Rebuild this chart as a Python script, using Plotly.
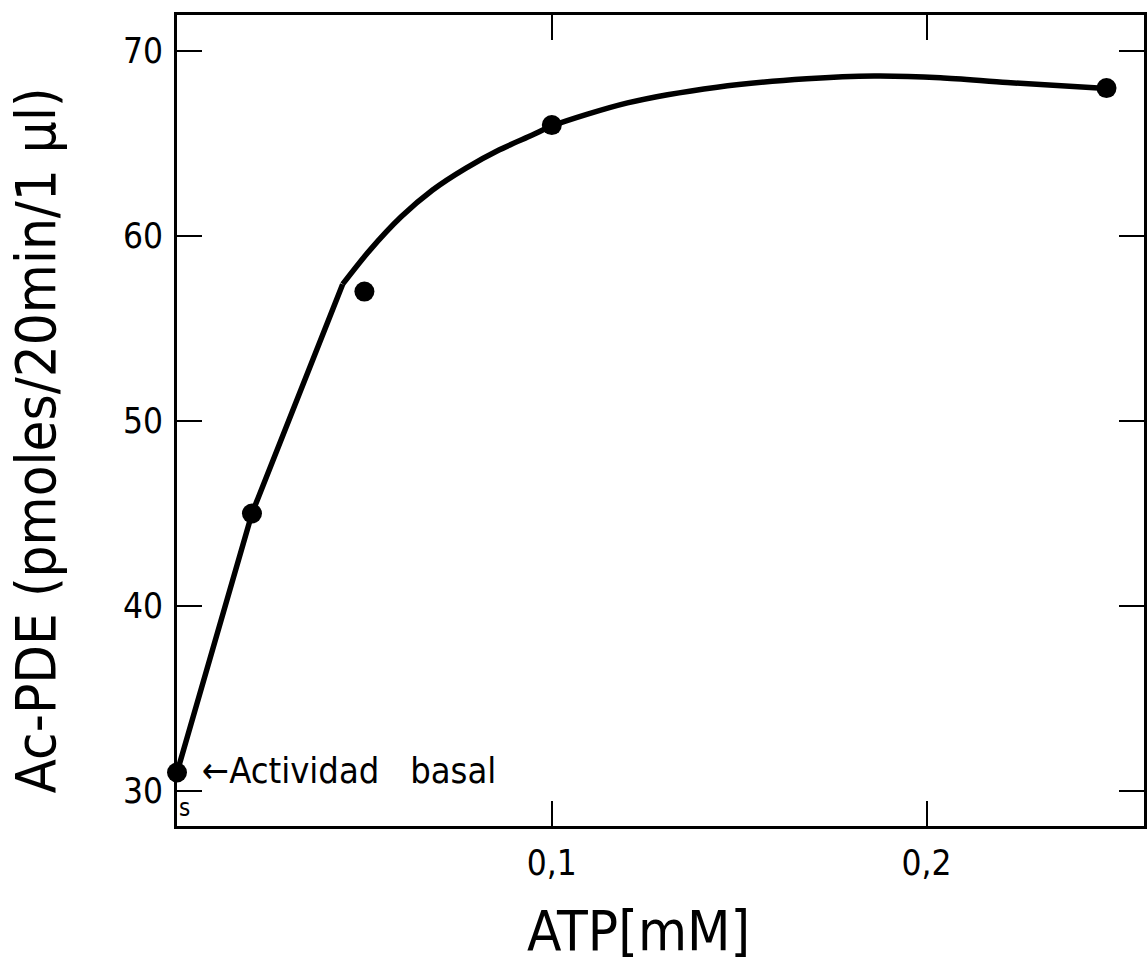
import plotly.graph_objects as go

# Measured points (ATP mM, Ac-PDE)
atp_points = [0.0, 0.02, 0.05, 0.1, 0.248]
pde_points = [31.0, 45.0, 57.0, 66.0, 68.0]

# Hand-drawn curve: straight rising part, then smooth saturating part
curve_lin_x = [0.0, 0.02, 0.0442]
curve_lin_y = [31.0, 45.0, 57.4]
curve_smooth_x = [0.0442, 0.0513, 0.0598, 0.0682, 0.077, 0.0859, 0.0948, 0.1, 0.1202, 0.1441, 0.168, 0.186, 0.2037, 0.2215, 0.248]
curve_smooth_y = [57.4, 59.2, 61.04, 62.49, 63.66, 64.65, 65.46, 65.95, 67.2, 68.05, 68.5, 68.65, 68.56, 68.3, 67.98]

x_tickvals = [0.1, 0.2]
x_ticktext = ["0,1", "0,2"]
y_tickvals = [30, 40, 50, 60, 70]
y_ticktext = ["30", "40", "50", "60", "70"]

FONT = "Liberation Sans Narrow, DejaVu Sans Condensed, Liberation Sans, sans-serif"

fig = go.Figure()
fig.add_trace(go.Scatter(x=curve_lin_x, y=curve_lin_y, mode="lines",
                         line=dict(color="black", width=5.5), showlegend=False, hoverinfo="skip"))
fig.add_trace(go.Scatter(x=curve_smooth_x, y=curve_smooth_y, mode="lines",
                         line=dict(color="black", width=5.5, shape="spline", smoothing=0.8),
                         showlegend=False, hoverinfo="skip"))
fig.add_trace(go.Scatter(x=atp_points, y=pde_points, mode="markers",
                         marker=dict(color="black", size=20), cliponaxis=False, showlegend=False))

fig.update_layout(
    width=1148, height=965,
    margin=dict(l=177, r=1, t=15, b=139),
    paper_bgcolor="white", plot_bgcolor="white",
    font=dict(family=FONT, color="black", size=34),
    xaxis=dict(range=[0, 0.258], tickvals=x_tickvals, ticktext=x_ticktext,
               ticks="inside", ticklen=25, tickwidth=2, tickcolor="black",
               showline=True, linewidth=3, linecolor="black", mirror="ticks",
               showgrid=False, zeroline=False, tickfont=dict(size=35),
               ticklabelstandoff=4),
    yaxis=dict(range=[28.11, 71.95], tickvals=y_tickvals, ticktext=y_ticktext,
               ticks="inside", ticklen=25, tickwidth=2, tickcolor="black",
               showline=True, linewidth=3, linecolor="black", mirror="ticks",
               showgrid=False, zeroline=False, tickfont=dict(size=35),
               ticklabelstandoff=4),
    annotations=[
        dict(text="ATP[mM]", xref="paper", yref="paper", x=(640 - 177) / 970, y=-(930 - 826) / 811,
             showarrow=False, font=dict(size=56), xanchor="center", yanchor="middle"),
        dict(text="Ac-PDE (pmoles/20min/1 µl)", xref="paper", yref="paper",
             x=(36 - 177) / 970, y=(826 - 440) / 811, textangle=-90,
             showarrow=False, font=dict(size=56), xanchor="center", yanchor="middle"),
        dict(text="←Actividad   basal", xref="x", yref="y", x=0.0062, y=31.1,
             showarrow=False, font=dict(size=36), xanchor="left", yanchor="middle"),
        dict(text="s", xref="x", yref="y", x=0.0019, y=29.1,
             showarrow=False, font=dict(size=24), xanchor="center", yanchor="middle"),
    ],
)

fig.write_html("out.html")
